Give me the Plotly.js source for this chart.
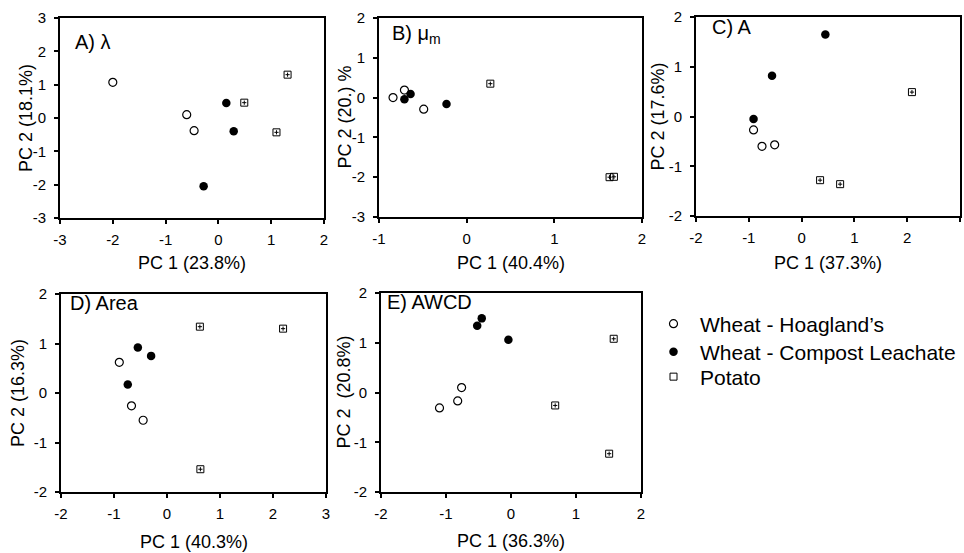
<!DOCTYPE html>
<html>
<head>
<meta charset="utf-8">
<script src="https://cdn.plot.ly/plotly-3.0.1.min.js"></script>
<style>html,body{margin:0;padding:0;background:#fff;}#chart{width:964px;height:553px;}</style>
</head>
<body>
<div id="chart"></div>
<script>
// ---- data (one inner array per panel A..E) ----
const panelLabels = ["A) λ", "B) μ<sub>m</sub>", "C) A", "D) Area", "E) AWCD"];
const xTitles = ["PC 1 (23.8%)", "PC 1 (40.4%)", "PC 1 (37.3%)", "PC 1 (40.3%)", "PC 1 (36.3%)"];
const yTitles = ["PC 2 (18.1%)", "PC 2 (20.) %", "PC 2 (17.6%)", "PC 2 (16.3%)", "PC 2\u00a0 (20.8%)"];
const seriesNames = ["Wheat - Hoagland’s", "Wheat - Compost Leachate", "Potato"];

const hoaglandPC1 = [[-2.00, -0.60, -0.46], [-0.84, -0.71, -0.49], [-0.91, -0.75, -0.51], [-0.90, -0.67, -0.45], [-0.76, -0.82, -1.10]];
const hoaglandPC2 = [[1.07, 0.10, -0.38], [0.00, 0.19, -0.29], [-0.27, -0.60, -0.57], [0.62, -0.26, -0.55], [0.10, -0.17, -0.31]];
const compostPC1 = [[0.15, 0.29, -0.28], [-0.71, -0.64, -0.23], [0.45, -0.56, -0.91], [-0.55, -0.30, -0.74], [-0.45, -0.52, -0.04]];
const compostPC2 = [[0.45, -0.40, -2.05], [-0.04, 0.09, -0.16], [1.65, 0.82, -0.05], [0.92, 0.75, 0.17], [1.49, 1.34, 1.06]];
const potatoPC1 = [[0.49, 1.31, 1.10], [0.27, 1.63, 1.68], [2.09, 0.35, 0.73], [0.62, 2.19, 0.63], [1.58, 0.68, 1.51]];
const potatoPC2 = [[0.46, 1.30, -0.43], [0.35, -2.00, -1.99], [0.49, -1.28, -1.36], [1.34, 1.30, -1.54], [1.08, -0.26, -1.23]];

// ---- layout geometry ----
const W = 964, H = 553;
const boxes = [ // [left, right, top, bottom] in px
  [60, 324, 18, 218],
  [379, 642, 18, 217],
  [696, 960, 17, 216],
  [61, 326, 294, 492],
  [381, 641, 293, 492]
];
const xRanges = [[-3, 2], [-1, 2], [-2, 3], [-2, 3], [-2, 2]];
const yRanges = [[-3, 3], [-3, 2], [-2, 2], [-2, 2], [-2, 2]];
const xTitleY = [263, 263, 263, 542, 541];   // px, centre of x-axis title
const yTitleX = [26, 345, 657, 18, 343];     // px, centre of y-axis title
const labelPos = [[0.05, 0.88], [0.042, 0.915], [0.053, 0.95], [0.026, 0.955], [0.015, 0.955]];
const legendRowY = [324, 352, 377];          // px, legend row centres

const FONT = "Liberation Sans, Arial, Helvetica, sans-serif";
const traces = [];
const layout = {
  width: W, height: H,
  margin: {l: 0, r: 0, t: 0, b: 0},
  paper_bgcolor: "#fff", plot_bgcolor: "#fff",
  font: {family: FONT, color: "#000", size: 14},
  showlegend: true,
  annotations: []
};
const legendIds = ["legend", "legend2", "legend3"];
legendIds.forEach((id, k) => {
  layout[id] = {x: 647 / W, y: 1 - legendRowY[k] / H, xanchor: "left", yanchor: "middle",
    font: {family: FONT, size: 21, color: "#000"}, bgcolor: "rgba(0,0,0,0)",
    borderwidth: 0, itemwidth: 43, tracegroupgap: 0};
});

function ticks(r) {
  const v = [];
  for (let t = r[0]; t <= r[1] + 1e-9; t += 1) v.push(t);
  return v;
}

for (let i = 0; i < 5; i++) {
  const sfx = i === 0 ? "" : String(i + 1);
  const xa = "x" + sfx, ya = "y" + sfx;
  const b = boxes[i];
  const common = {
    showline: true, linewidth: 2, linecolor: "#000", mirror: true,
    ticks: "outside", ticklen: 4, tickwidth: 2, tickcolor: "#000",
    showgrid: false, zeroline: false, fixedrange: true,
    tickfont: {family: FONT, size: 15, color: "#000"}, tickmode: "array"
  };
  const xv = ticks(xRanges[i]), yv = ticks(yRanges[i]);
  layout["xaxis" + sfx] = Object.assign({}, common, {
    domain: [b[0] / W, b[1] / W], range: xRanges[i], anchor: ya,
    tickvals: xv, ticktext: xv.map(String), ticklabelstandoff: 3
  });
  layout["yaxis" + sfx] = Object.assign({}, common, {
    domain: [1 - b[3] / H, 1 - b[2] / H], range: yRanges[i], anchor: xa,
    tickvals: yv, ticktext: yv.map(String), ticklabelstandoff: 5
  });
  layout.annotations.push({
    text: xTitles[i], xref: xa + " domain", yref: "paper",
    x: 0.5, y: 1 - xTitleY[i] / H, xanchor: "center", yanchor: "middle",
    showarrow: false, font: {family: FONT, size: 18, color: "#000"}
  });
  layout.annotations.push({
    text: yTitles[i], xref: "paper", yref: ya + " domain",
    x: yTitleX[i] / W, y: 0.5, xanchor: "center", yanchor: "middle", textangle: -90,
    showarrow: false, font: {family: FONT, size: 18, color: "#000"}
  });
  layout.annotations.push({
    text: panelLabels[i], xref: xa + " domain", yref: ya + " domain",
    x: labelPos[i][0], y: labelPos[i][1], xanchor: "left", yanchor: "middle",
    showarrow: false, font: {family: FONT, size: 20, color: "#000"}
  });
  const show = i === 0;
  traces.push({
    type: "scatter", mode: "markers", name: seriesNames[0], legend: "legend", showlegend: show,
    x: hoaglandPC1[i], y: hoaglandPC2[i], xaxis: xa, yaxis: ya, cliponaxis: false,
    marker: {symbol: "circle-open", size: 8, color: "#000", line: {width: 1.2, color: "#000"}}
  });
  traces.push({
    type: "scatter", mode: "markers", name: seriesNames[1], legend: "legend2", showlegend: show,
    x: compostPC1[i], y: compostPC2[i], xaxis: xa, yaxis: ya, cliponaxis: false,
    marker: {symbol: "circle", size: 8.5, color: "#000", line: {width: 0}}
  });
  traces.push({
    type: "scatter", mode: "markers", name: seriesNames[2], legend: "legend3", showlegend: show,
    x: potatoPC1[i], y: potatoPC2[i], xaxis: xa, yaxis: ya, cliponaxis: false,
    marker: {symbol: "square-open", size: 7, color: "#000", line: {width: 1, color: "#000"}}
  });
  traces.push({
    type: "scatter", mode: "markers", name: seriesNames[2], legend: "legend3", showlegend: false,
    x: potatoPC1[i], y: potatoPC2[i], xaxis: xa, yaxis: ya, cliponaxis: false, hoverinfo: "skip",
    marker: {symbol: "cross-thin-open", size: 3, color: "#000", line: {width: 1, color: "#000"}}
  });
}

Plotly.newPlot("chart", traces, layout, {staticPlot: true, displayModeBar: false});
</script>
</body>
</html>
